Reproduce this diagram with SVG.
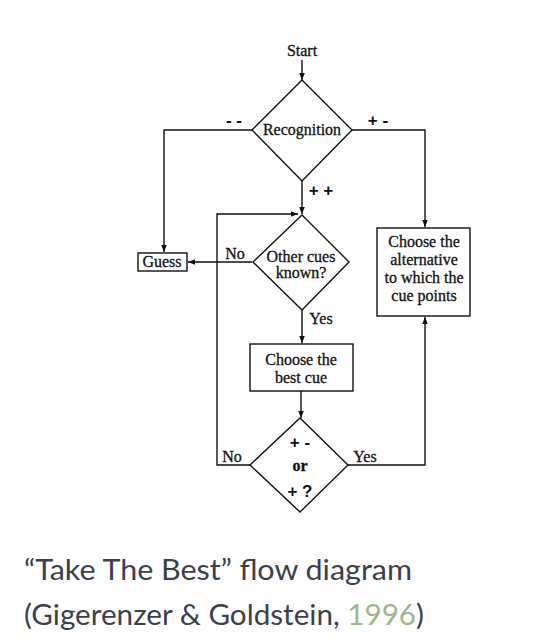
<svg xmlns="http://www.w3.org/2000/svg" width="544" height="644" viewBox="0 0 544 644">
<defs>
<marker id="ah" viewBox="0 0 10 10" refX="10" refY="5" markerWidth="7" markerHeight="10" markerUnits="userSpaceOnUse" orient="auto">
<path d="M0,1 L10,5 L0,9 Z" fill="#111"/>
</marker>
<style>
.s{fill:none;stroke:#111;stroke-width:1.4}
.n{fill:#fff;stroke:#111;stroke-width:1.4}
.t{font-family:"Liberation Serif",serif;font-size:16px;fill:#111;stroke:#111;stroke-width:0.3;text-anchor:middle}
.b{font-family:"Liberation Sans",sans-serif;font-size:17px;font-weight:bold;fill:#111;text-anchor:middle}
.c{font-family:"Lato","Open Sans",sans-serif;font-size:28px;fill:#3b3f4c}
</style>
</defs>
<rect width="544" height="644" fill="#fff"/>
<g id="connectors">
<line class="s" x1="302" y1="60" x2="302" y2="80" marker-end="url(#ah)"/>
<polyline class="s" points="252,130 164,130 164,252" marker-end="url(#ah)"/>
<polyline class="s" points="352,130 425,130 425,227" marker-end="url(#ah)"/>
<line class="s" x1="302" y1="181" x2="302" y2="214" marker-end="url(#ah)"/>
<line class="s" x1="252" y1="262" x2="188" y2="262" marker-end="url(#ah)"/>
<line class="s" x1="302" y1="310" x2="302" y2="343" marker-end="url(#ah)"/>
<line class="s" x1="301" y1="391" x2="301" y2="418" marker-end="url(#ah)"/>
<polyline class="s" points="250,465 217,465 217,214 298,214" marker-end="url(#ah)"/>
<polyline class="s" points="348,465 425,465 425,317" marker-end="url(#ah)"/>
<text class="b" x="234" y="126">- -</text>
<text class="b" x="378" y="126">+ -</text>
<text class="b" x="321" y="196">+ +</text>
<text class="t" x="235" y="259">No</text>
<text class="t" x="321" y="324">Yes</text>
<text class="t" x="232" y="462">No</text>
<text class="t" x="365" y="462">Yes</text>
</g>
<g id="start"><text class="t" x="302" y="56">Start</text></g>
<g id="recognition">
<polygon class="n" points="302,80 352,130 302,181 252,130"/>
<text class="t" x="302" y="135">Recognition</text>
</g>
<g id="guess">
<rect class="n" x="138" y="253" width="49" height="18"/>
<text class="t" x="162" y="267">Guess</text>
</g>
<g id="other-cues">
<polygon class="n" points="302,215 349,262 302,310 253,262"/>
<text class="t" x="301" y="262">Other cues</text>
<text class="t" x="301" y="278">known?</text>
</g>
<g id="choose-alternative">
<rect class="n" x="377" y="228" width="93" height="88"/>
<text class="t" x="424" y="247">Choose the</text>
<text class="t" x="424" y="265">alternative</text>
<text class="t" x="424" y="283">to which the</text>
<text class="t" x="424" y="301">cue points</text>
</g>
<g id="choose-best">
<rect class="n" x="250" y="344" width="103" height="47"/>
<text class="t" x="301" y="365">Choose the</text>
<text class="t" x="301" y="383">best cue</text>
</g>
<g id="decision">
<polygon class="n" points="300,418 348,465 300,512 250,465"/>
<text class="b" x="300" y="448">+ -</text>
<text class="t" x="300" y="471" font-weight="bold">or</text>
<text class="b" x="300" y="497">+ ?</text>
</g>
<g id="caption">
<text class="c" x="24" y="580" textLength="388" lengthAdjust="spacingAndGlyphs">“Take The Best” flow diagram</text>
<text class="c" x="24" y="625" textLength="400" lengthAdjust="spacingAndGlyphs">(Gigerenzer &amp; Goldstein, <tspan fill="#9db68c">1996</tspan>)</text>
</g>
</svg>
